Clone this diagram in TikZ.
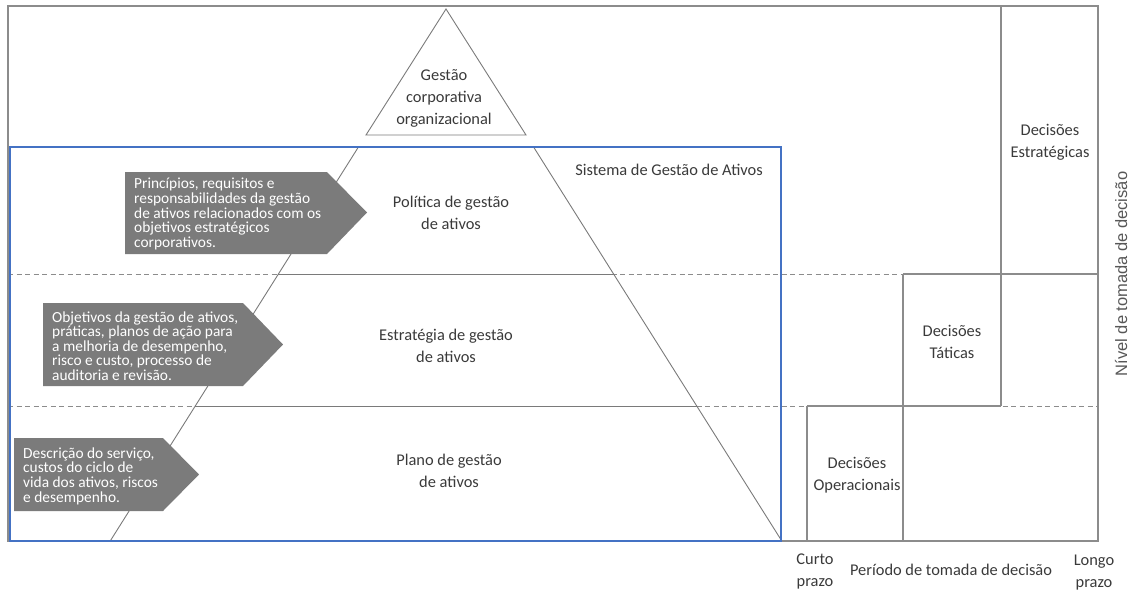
\documentclass[tikz,border=0pt]{standalone}
\usepackage{fontspec}
\setmainfont{Carlito}
\newfontfamily\axisfont{Liberation Sans}
\usetikzlibrary{calc}
\definecolor{frame}{HTML}{8C8C8C}
\definecolor{pyr}{HTML}{7A7A7A}
\definecolor{sysblue}{HTML}{4472C4}
\definecolor{chev}{HTML}{7B7B7B}
\definecolor{ink}{HTML}{3A3A3A}
\begin{document}
\begin{tikzpicture}[x=1pt,y=-1pt,
  frameline/.style={draw=frame,line width=1.2pt},
  levelline/.style={draw=frame,line width=1pt,dash pattern=on 5pt off 3.5pt},
  pyrline/.style={draw=pyr,line width=0.9pt},
  chevron/.style={fill=chev,draw=none},
  maintext/.style={text=ink,align=center,inner sep=0pt,font=\fontsize{16.4}{22}\selectfont},
  chevtext/.style={text=white,align=left,anchor=west,inner sep=0pt,font=\fontsize{15.4}{14.6}\selectfont},
  axistext/.style={text=ink!85,inner sep=0pt,font=\axisfont\fontsize{16.5}{19}\selectfont}]
\useasboundingbox (0,0) rectangle (1131,592);

% decision levels (dashed) across the whole frame
\draw[levelline] (8,274) -- (1098,274);
\draw[levelline] (8,406) -- (1098,406);

% outer frame
\draw[frameline] (8,6) rectangle (1098,541);

% decision blocks on the right
\draw[frameline] (1001,6) -- (1001,406);
\draw[frameline] (903,274) -- (1098,274);
\draw[frameline] (903,274) -- (903,541);
\draw[frameline] (807,406) -- (1001,406);
\draw[frameline] (807,406) -- (807,541);

% pyramid: corporate tip and asset-management body
\coordinate (apex) at (446,9);
\draw[pyrline] (apex) -- (366,135) -- (526,135) -- cycle;
\draw[pyrline] (357.8,148) -- (110.2,541);
\draw[pyrline] (534.2,148) -- (781.8,541);
\draw[pyrline] (278.4,274) -- (613.6,274);
\draw[pyrline] (195.3,406) -- (696.7,406);

% asset management system boundary
\draw[draw=sysblue,line width=2.4pt] (10,147) rectangle (781,541);

% chevrons describing each level
\fill[chevron] (125,172) -- (327,172) -- (367,212.5) -- (327,254) -- (125,254) -- cycle;
\fill[chevron] (43,303) -- (243,303) -- (283,344.5) -- (243,386) -- (43,386) -- cycle;
\fill[chevron] (14,438) -- (163,438) -- (199,474.5) -- (163,511) -- (14,511) -- cycle;

\node[chevtext] (c1) at (134,214) {Princípios, requisitos e\\responsabilidades da gestão\\de ativos relacionados com os\\objetivos estratégicos\\corporativos.};
\node[chevtext] (c2) at (52,346) {Objetivos da gestão de ativos,\\práticas, planos de ação para\\a melhoria de desempenho,\\risco e custo, processo de\\auditoria e revisão.};
\node[chevtext] (c3) at (23,476) {Descrição do serviço,\\custos do ciclo de\\vida dos ativos, riscos\\e desempenho.};

% level names
\node[maintext] (corp) at (444,98) {Gestão\\corporativa\\organizacional};
\node[maintext] (sga) at (669,170) {Sistema de Gestão de Ativos};
\node[maintext] (pol) at (451,213) {Política de gestão\\de ativos};
\node[maintext] (est) at (446,345.5) {Estratégia de gestão\\de ativos};
\node[maintext] (pla) at (449,471) {Plano de gestão\\de ativos};

\node[maintext] (dest) at (1050,142) {Decisões\\Estratégicas};
\node[maintext] (dtat) at (952,342) {Decisões\\Táticas};
\node[maintext] (dope) at (857,475) {Decisões\\Operacionais};

% axes
\node[maintext] (curto) at (815,571) {Curto\\prazo};
\node[maintext] (periodo) at (951,570) {Período de tomada de decisão};
\node[maintext] (longo) at (1094,572.5) {Longo\\prazo};
\node[axistext,rotate=90] (nivel) at (1121,274) {Nível de tomada de decisão};
\end{tikzpicture}
\end{document}
